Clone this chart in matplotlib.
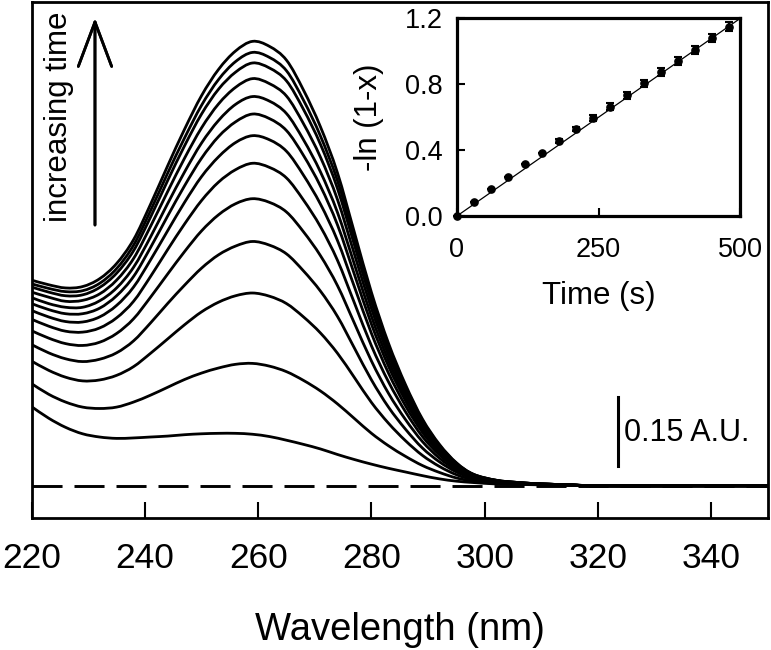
import matplotlib
matplotlib.use("Agg")
import matplotlib.pyplot as plt
from matplotlib.path import Path
from matplotlib.patches import PathPatch

plt.rcParams["font.family"] = ["Liberation Sans", "DejaVu Sans"]

# ---- main panel: UV spectra recorded over time (absorbance, baseline-offset) ----
wavelength = [220, 223, 226, 229, 232, 235, 238, 241, 244, 247, 250, 253, 256, 259,
              262, 265, 268, 271, 274, 277, 280, 283, 286, 289, 292, 295, 298,
              302, 306, 310, 315, 320, 335, 350]

abs_00 = [0.172, 0.147, 0.127, 0.113, 0.106, 0.103, 0.104, 0.106, 0.108, 0.111, 0.113, 0.114, 0.114, 0.112,
          0.107, 0.099, 0.090, 0.080, 0.068, 0.057, 0.047, 0.038, 0.030, 0.022, 0.015, 0.010, 0.007,
          0.004, 0.003, 0.002, 0.001, 0.0, 0.0, 0.0]
abs_01 = [0.222, 0.199, 0.182, 0.171, 0.168, 0.171, 0.182, 0.197, 0.214, 0.231, 0.245, 0.256, 0.264, 0.266,
          0.260, 0.248, 0.229, 0.206, 0.178, 0.146, 0.114, 0.087, 0.064, 0.044, 0.029, 0.017, 0.010,
          0.005, 0.004, 0.002, 0.001, 0.0, 0.0, 0.0]
abs_02 = [0.271, 0.251, 0.236, 0.228, 0.230, 0.240, 0.259, 0.288, 0.319, 0.350, 0.378, 0.399, 0.413, 0.419,
          0.412, 0.396, 0.367, 0.332, 0.288, 0.235, 0.181, 0.136, 0.098, 0.066, 0.042, 0.024, 0.013,
          0.007, 0.004, 0.003, 0.001, 0.0, 0.0, 0.0]
abs_03 = [0.307, 0.289, 0.276, 0.270, 0.275, 0.289, 0.315, 0.354, 0.396, 0.436, 0.473, 0.502, 0.521, 0.531,
          0.523, 0.504, 0.467, 0.423, 0.368, 0.299, 0.230, 0.171, 0.123, 0.082, 0.052, 0.030, 0.016,
          0.008, 0.005, 0.003, 0.001, 0.0, 0.0, 0.0]
abs_04 = [0.337, 0.321, 0.309, 0.305, 0.312, 0.331, 0.363, 0.410, 0.460, 0.509, 0.554, 0.589, 0.613, 0.624,
          0.616, 0.595, 0.552, 0.500, 0.435, 0.353, 0.271, 0.201, 0.144, 0.096, 0.060, 0.034, 0.018,
          0.009, 0.005, 0.003, 0.002, 0.0, 0.0, 0.0]
abs_05 = [0.362, 0.347, 0.336, 0.334, 0.343, 0.365, 0.401, 0.455, 0.513, 0.569, 0.620, 0.660, 0.687, 0.701,
          0.692, 0.669, 0.621, 0.563, 0.490, 0.397, 0.304, 0.226, 0.161, 0.107, 0.067, 0.038, 0.019,
          0.010, 0.006, 0.003, 0.002, 0.0, 0.0, 0.0]
abs_06 = [0.381, 0.367, 0.357, 0.356, 0.367, 0.392, 0.432, 0.491, 0.554, 0.616, 0.672, 0.715, 0.746, 0.761,
          0.752, 0.727, 0.675, 0.612, 0.533, 0.432, 0.331, 0.245, 0.174, 0.116, 0.072, 0.040, 0.021,
          0.010, 0.006, 0.003, 0.002, 0.0, 0.0, 0.0]
abs_07 = [0.396, 0.383, 0.374, 0.374, 0.386, 0.413, 0.455, 0.518, 0.586, 0.652, 0.712, 0.759, 0.791, 0.808,
          0.798, 0.772, 0.718, 0.651, 0.567, 0.459, 0.351, 0.260, 0.185, 0.122, 0.076, 0.043, 0.022,
          0.011, 0.006, 0.004, 0.002, 0.0, 0.0, 0.0]
abs_08 = [0.409, 0.396, 0.388, 0.388, 0.402, 0.430, 0.475, 0.541, 0.613, 0.682, 0.745, 0.794, 0.829, 0.846,
          0.836, 0.809, 0.752, 0.682, 0.594, 0.481, 0.368, 0.272, 0.193, 0.128, 0.080, 0.044, 0.023,
          0.011, 0.006, 0.004, 0.002, 0.0, 0.0, 0.0]
abs_09 = [0.421, 0.410, 0.401, 0.403, 0.417, 0.447, 0.494, 0.564, 0.639, 0.712, 0.778, 0.830, 0.866, 0.885,
          0.874, 0.847, 0.787, 0.714, 0.622, 0.503, 0.385, 0.284, 0.202, 0.133, 0.083, 0.046, 0.023,
          0.011, 0.007, 0.004, 0.002, 0.0, 0.0, 0.0]
abs_10 = [0.432, 0.421, 0.413, 0.415, 0.431, 0.462, 0.511, 0.584, 0.663, 0.739, 0.808, 0.862, 0.899, 0.919,
          0.908, 0.880, 0.818, 0.742, 0.646, 0.523, 0.400, 0.295, 0.210, 0.138, 0.086, 0.048, 0.024,
          0.012, 0.007, 0.004, 0.002, 0.0, 0.0, 0.0]
abs_11 = [0.439, 0.429, 0.422, 0.424, 0.440, 0.472, 0.523, 0.598, 0.679, 0.756, 0.827, 0.883, 0.922, 0.942,
          0.931, 0.902, 0.838, 0.760, 0.663, 0.536, 0.410, 0.302, 0.215, 0.142, 0.088, 0.049, 0.025,
          0.012, 0.007, 0.004, 0.002, 0.0, 0.0, 0.0]
abs_12 = [0.447, 0.437, 0.430, 0.433, 0.450, 0.483, 0.535, 0.612, 0.695, 0.775, 0.848, 0.905, 0.945, 0.966,
          0.955, 0.925, 0.860, 0.780, 0.680, 0.550, 0.420, 0.310, 0.220, 0.145, 0.090, 0.050, 0.025,
          0.012, 0.007, 0.004, 0.002, 0.0, 0.0, 0.0]
spectra = [abs_00, abs_01, abs_02, abs_03, abs_04, abs_05, abs_06,
           abs_07, abs_08, abs_09, abs_10, abs_11, abs_12]

x_ticks = [220, 240, 260, 280, 300, 320, 340]
scale_bar = 0.15

# ---- inset: first-order kinetics ----
time_s = [0, 30, 60, 90, 120, 150, 180, 210, 240, 270, 300, 330, 360, 390, 420, 450, 480]
neg_ln = [0.0, 0.087, 0.162, 0.239, 0.314, 0.384, 0.455, 0.528, 0.597, 0.664, 0.733,
          0.805, 0.874, 0.941, 1.008, 1.079, 1.149]
neg_ln_err = [0.0, 0.0, 0.0, 0.0, 0.0, 0.0, 0.010, 0.015, 0.018, 0.020, 0.020,
              0.022, 0.022, 0.024, 0.025, 0.025, 0.026]
fit_t = [0, 500]
fit_slope = 0.0024


def smooth_path(xs, ys):
    """Cubic Bezier path through every point (Catmull-Rom tangents)."""
    pts = list(zip(xs, ys))
    verts = [pts[0]]
    codes = [Path.MOVETO]
    n = len(pts)
    for i in range(n - 1):
        p0 = pts[max(i - 1, 0)]
        p1 = pts[i]
        p2 = pts[i + 1]
        p3 = pts[min(i + 2, n - 1)]
        c1 = (p1[0] + (p2[0] - p0[0]) / 6, p1[1] + (p2[1] - p0[1]) / 6)
        c2 = (p2[0] - (p3[0] - p1[0]) / 6, p2[1] - (p3[1] - p1[1]) / 6)
        verts += [c1, c2, p2]
        codes += [Path.CURVE4] * 3
    return Path(verts, codes)


fig = plt.figure(figsize=(7.71, 6.5), dpi=100)

ax = fig.add_axes([0.0410, 0.2031, 0.9551, 0.7938])
ax.axhline(0, color="black", lw=2.1, ls=(0, (10.3, 4.1)), zorder=1)
for spec in spectra:
    ax.add_patch(PathPatch(smooth_path(wavelength, spec), fill=False, edgecolor="black",
                           lw=2.0, joinstyle="round", zorder=2))

ax.set_xlim(220, 350)
ax.set_ylim(-0.070, 1.0515)
ax.set_xticks(x_ticks)
ax.set_yticks([])
ax.tick_params(axis="x", direction="in", length=11.5, width=1.5, labelsize=25.5, pad=17)
for s in ax.spines.values():
    s.set_linewidth(2.0)
ax.set_xlabel("Wavelength (nm)", fontsize=27.5, labelpad=27)

# scale bar
ax.plot([323.6, 323.6], [0.043, 0.043 + scale_bar], color="black", lw=2.2)
ax.text(324.6, 0.114, f"{scale_bar:.2f} A.U.", fontsize=22, ha="left", va="center")

# "increasing time" arrow
fig.text(0.077, 0.82, "increasing time", rotation=90, fontsize=22.5, ha="center", va="center")
fig.add_artist(plt.annotate(
    "", xy=(0.1232, 0.9723), xytext=(0.1232, 0.6538), xycoords="figure fraction",
    textcoords="figure fraction",
    arrowprops=dict(arrowstyle="->,head_length=1.6,head_width=0.6", lw=2.0,
                    color="black", mutation_scale=20, shrinkA=0, shrinkB=0)))

# inset
ins = fig.add_axes([0.5927, 0.6677, 0.3676, 0.3042])
ins.plot(fit_t, [fit_slope * t for t in fit_t], color="black", lw=0.9, clip_on=False)
ins.errorbar(time_s, neg_ln, yerr=neg_ln_err, fmt="o", color="black", ms=5.2,
             elinewidth=1.5, capsize=3, capthick=1.5, clip_on=False, zorder=3)
ins.set_xlim(0, 500)
ins.set_ylim(0, 1.2)
ins.set_xticks([0, 250, 500])
ins.set_yticks([0.0, 0.4, 0.8, 1.2])
ins.set_yticklabels(["0.0", "0.4", "0.8", "1.2"])
ins.tick_params(direction="in", length=5.8, width=1.5, labelsize=19.5)
ins.tick_params(axis="x", pad=15)
ins.tick_params(axis="y", pad=10)
for s in ins.spines.values():
    s.set_linewidth(2.3)
ins.set_xlabel("Time (s)", fontsize=22.5, labelpad=13)
ins.set_ylabel("-ln (1-x)", fontsize=22.5, va="center")
ins.yaxis.set_label_coords(-0.312, 0.5)

fig.savefig("out.png", dpi=100)
